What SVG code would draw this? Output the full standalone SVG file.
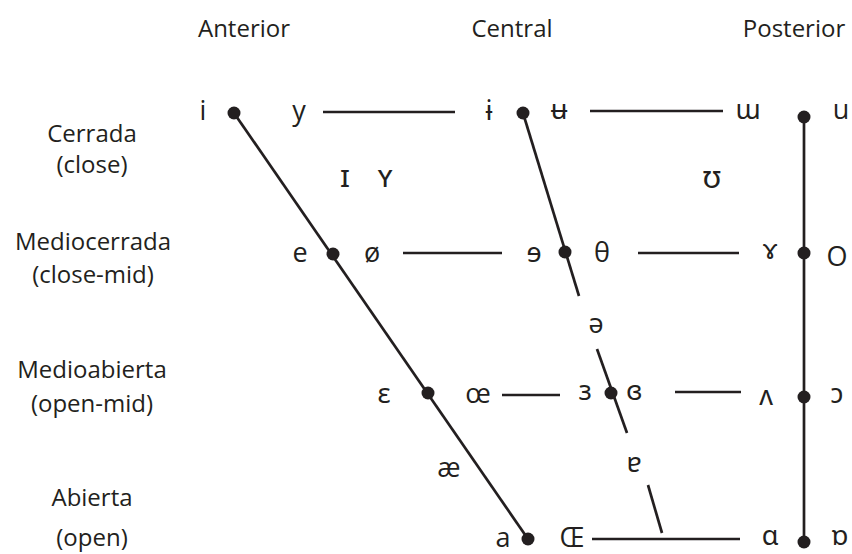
<svg xmlns="http://www.w3.org/2000/svg" width="852" height="554" viewBox="0 0 852 554">
<style>
text{font-family:"Open Sans","Noto Sans","DejaVu Sans",sans-serif;fill:#231f20;}
.h{font-size:24px;text-anchor:middle;}
.v{font-size:27px;text-anchor:middle;}
.sc{font-size:31px;text-anchor:middle;}
.ln{stroke:#231f20;stroke-width:2.7;fill:none;}
.dot{fill:#231f20;}
</style>
<rect width="852" height="554" fill="#ffffff"/>
<g id="headers">
<text class="h" x="244" y="37">Anterior</text>
<text class="h" x="512" y="37">Central</text>
<text class="h" x="794" y="37">Posterior</text>
</g>
<g id="row-labels">
<text class="h" x="92" y="142">Cerrada</text>
<text class="h" x="92" y="173">(close)</text>
<text class="h" x="93" y="250">Mediocerrada</text>
<text class="h" x="93" y="283">(close-mid)</text>
<text class="h" x="92" y="378">Medioabierta</text>
<text class="h" x="92" y="412">(open-mid)</text>
<text class="h" x="92" y="506">Abierta</text>
<text class="h" x="92" y="546">(open)</text>
</g>
<g id="connectors">
<line class="ln" x1="234" y1="113" x2="528" y2="539"/>
<line class="ln" x1="523" y1="113" x2="579" y2="296"/>
<line class="ln" x1="597" y1="349" x2="627" y2="433"/>
<line class="ln" x1="648" y1="485" x2="662" y2="533"/>
<line class="ln" x1="804" y1="117" x2="804" y2="542"/>
<line class="ln" x1="323" y1="112" x2="455" y2="112"/>
<line class="ln" x1="590" y1="111" x2="723" y2="111"/>
<line class="ln" x1="403" y1="253" x2="502" y2="253"/>
<line class="ln" x1="638" y1="253" x2="739" y2="253"/>
<line class="ln" x1="502" y1="395" x2="560" y2="395"/>
<line class="ln" x1="675" y1="392" x2="741" y2="392"/>
<line class="ln" x1="592" y1="539" x2="740" y2="539"/>
</g>
<g id="dots">
<circle class="dot" cx="234" cy="113" r="6.5"/>
<circle class="dot" cx="523" cy="113" r="6.5"/>
<circle class="dot" cx="804" cy="117" r="6.5"/>
<circle class="dot" cx="333" cy="254" r="6.5"/>
<circle class="dot" cx="565" cy="252" r="6.5"/>
<circle class="dot" cx="804" cy="253" r="6.5"/>
<circle class="dot" cx="428" cy="393" r="6.5"/>
<circle class="dot" cx="611" cy="393" r="6.5"/>
<circle class="dot" cx="804" cy="397" r="6.5"/>
<circle class="dot" cx="528" cy="539" r="6.5"/>
<circle class="dot" cx="804" cy="542" r="6.5"/>
</g>
<g id="vowels">
<text class="v" x="203" y="120">i</text>
<text class="v" x="299" y="120">y</text>
<text class="v" x="489" y="120">ɨ</text>
<text class="v" x="559" y="119">ʉ</text>
<text class="v" x="748" y="119">ɯ</text>
<text class="v" x="841" y="119">u</text>
<text class="sc" x="345" y="187">ɪ</text>
<text class="sc" x="385" y="187">ʏ</text>
<text class="sc" x="712" y="188">ʊ</text>
<text class="v" x="300" y="262">e</text>
<text class="v" x="372" y="262">ø</text>
<text class="v" x="534" y="262">ɘ</text>
<text class="v" x="602" y="262">θ</text>
<text class="v" x="770" y="259">ɤ</text>
<text class="v" x="837" y="266">O</text>
<text class="v" x="596" y="333">ə</text>
<text class="v" x="384" y="403">ɛ</text>
<text class="v" x="478" y="403">œ</text>
<text class="v" x="585" y="400">ɜ</text>
<text class="v" x="634" y="400">ɞ</text>
<text class="v" x="766" y="405">ʌ</text>
<text class="v" x="837" y="403">ɔ</text>
<text class="v" x="449" y="477">æ</text>
<text class="v" x="634" y="472">ɐ</text>
<text class="v" x="503" y="547">a</text>
<text class="v" x="572" y="547">Œ</text>
<text class="v" x="770" y="545">ɑ</text>
<text class="v" x="840" y="545">ɒ</text>
</g>
</svg>
